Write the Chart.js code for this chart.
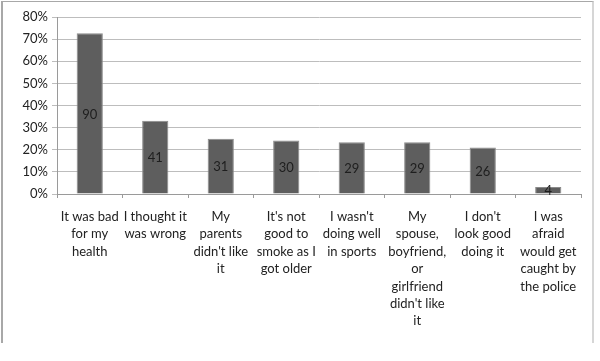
<!DOCTYPE html>
<html>
<head>
<meta charset="utf-8">
<script src="https://cdn.jsdelivr.net/npm/chart.js@4"></script>
<style>
html,body{margin:0;padding:0;background:#fff;}
#wrap{position:relative;width:600px;height:361px;}
#frame{position:absolute;left:1px;top:1px;width:593px;height:342px;border-left:2px solid #a8a8a8;border-top:1px solid #a8a8a8;border-right:2px solid #d6d6d6;box-sizing:border-box;pointer-events:none;}
canvas{position:absolute;left:0;top:0;}
</style>
</head>
<body>
<div id="wrap">
<canvas id="c" width="600" height="361"></canvas>
<div id="frame"></div>
</div>
<script>
const categories = [
  ["It was bad","for my","health"],
  ["I thought it","was wrong"],
  ["My","parents","didn't like","it"],
  ["It's not","good to","smoke as I","got older"],
  ["I wasn't","doing well","in sports"],
  ["My","spouse,","boyfriend,","or","girlfriend","didn't like","it"],
  ["I don't","look good","doing it"],
  ["I was","afraid","would get","caught by","the police"]
];
const percentValues = [72.6, 33.1, 25.0, 24.2, 23.4, 23.4, 21.0, 3.2];
const countLabels = [90, 41, 31, 30, 29, 29, 26, 4];
const yTicks = [0, 10, 20, 30, 40, 50, 60, 70, 80];

const FONT = "Lato, 'Open Sans', sans-serif";

const countPlugin = {
  id: 'countLabels',
  afterDatasetsDraw(chart) {
    const ctx = chart.ctx;
    const meta = chart.getDatasetMeta(0);
    ctx.save();
    ctx.font = "13px " + FONT;
    ctx.fillStyle = "#1e1e1e";
    ctx.textAlign = "center";
    ctx.textBaseline = "middle";
    meta.data.forEach((bar, i) => {
      const cy = (bar.y + bar.base) / 2;
      ctx.fillText(String(countLabels[i]), bar.x, cy + 1);
    });
    ctx.restore();
  }
};

new Chart(document.getElementById('c'), {
  type: 'bar',
  data: {
    labels: categories,
    datasets: [{
      data: percentValues,
      backgroundColor: '#5e5e5e',
      borderColor: '#8a8a8a',
      borderWidth: 1,
      barPercentage: 0.4,
      categoryPercentage: 1.0
    }]
  },
  options: {
    responsive: false,
    animation: false,
    devicePixelRatio: 1,
    layout: { padding: { left: 0, right: 19, top: 17, bottom: 0 } },
    plugins: { legend: { display: false }, tooltip: { enabled: false } },
    scales: {
      x: {
        afterFit(scale) { scale.height = 167; },
        grid: { display: true, drawOnChartArea: false, offset: true, tickLength: 4, color: '#9a9a9a' },
        border: { color: '#9a9a9a', width: 1 },
        ticks: {
          autoSkip: false, maxRotation: 0, minRotation: 0, padding: 10,
          color: '#222', font: { family: FONT, size: 13, lineHeight: 1.34 }
        }
      },
      y: {
        min: 0, max: 80,
        afterFit(scale) { scale.width = 57; },
        afterBuildTicks(scale) { scale.ticks = yTicks.map(v => ({ value: v })); },
        grid: { color: '#bdbdbd', tickLength: 5, lineWidth: 1 },
        border: { color: '#9a9a9a', width: 1 },
        ticks: {
          padding: 4, color: '#222',
          font: { family: FONT, size: 13 },
          callback: v => v + '%'
        }
      }
    }
  },
  plugins: [countPlugin]
});
</script>
</body>
</html>
